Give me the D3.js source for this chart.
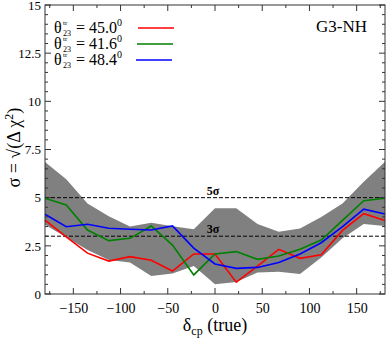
<!DOCTYPE html>
<html><head><meta charset="utf-8">
<script src="https://cdn.jsdelivr.net/npm/d3@7"></script>
<style>body{margin:0;background:#fff}svg{display:block}svg text{font-family:"Liberation Serif","DejaVu Serif",serif}</style>
</head><body><svg id="c" width="390" height="339"></svg>
<script>
const deltaCP = [-180,-157.5,-135,-112.5,-90,-67.5,-45,-22.5,0,22.5,45,67.5,90,112.5,135,157.5,180];
const red45   = [3.84,2.97,2.12,1.71,1.94,1.75,1.19,2.08,2.08,0.61,1.45,2.32,1.85,2.04,3.30,4.17,3.82];
const green41 = [4.97,4.62,3.32,2.77,2.89,3.53,2.54,0.99,2.08,2.20,1.80,1.97,2.32,2.80,3.82,4.84,4.97];
const blue48  = [4.14,3.49,3.62,3.41,3.36,3.32,3.53,2.38,1.56,1.33,1.38,1.63,2.08,2.66,3.50,4.40,4.15];
const bandUpper = [6.85,5.95,4.70,4.03,3.50,3.70,3.52,3.36,4.45,4.45,3.63,3.23,3.40,4.00,4.70,5.83,6.87];
const bandLower = [3.60,2.94,2.28,1.76,1.63,0.93,1.07,1.45,0.50,0.62,1.12,1.15,1.04,1.90,2.89,3.63,3.53];
const xTicks = [-150,-100,-50,0,50,100,150];
const yTicks = [0,2.5,5,7.5,10,12.5,15];
const yTickLabels = ["0","2.5","5","7.5","10","12.5","15"];
const sigmaLevels = [5,3];
const sigmaLabels = ["5σ","3σ"];
const seriesNames = ["45.0","41.6","48.4"];
const seriesColors = ["#ff0000","#008000","#0000ff"];

const svg = d3.select("#c");
const L=45, R=385, T=5, B=294;
const x = d3.scaleLinear().domain([-180,180]).range([L,R]);
const y = d3.scaleLinear().domain([0,15]).range([B,T]);
const serif = "Liberation Serif, DejaVu Serif, serif";

// band
const area = d3.area().x((d,i)=>x(deltaCP[i])).y0((d,i)=>y(bandLower[i])).y1(d=>y(d));
svg.append("path").datum(bandUpper).attr("d",area).attr("fill","#808080");

// sigma lines
sigmaLevels.forEach((s,i)=>{
  svg.append("line").attr("x1",L).attr("x2",R).attr("y1",y(s)).attr("y2",y(s))
    .attr("stroke","#000").attr("stroke-width",1).attr("stroke-dasharray","4,2");
  svg.append("text").attr("x",x(0)-2).attr("y",y(s)-3).attr("text-anchor","middle")
    .attr("font-family",serif).attr("font-size",12).attr("font-weight","bold").text(sigmaLabels[i]);
});

// series
const line = d3.line().x((d,i)=>x(deltaCP[i])).y(d=>y(d));
[red45,green41,blue48].forEach((s,i)=>{
  svg.append("path").datum(s).attr("d",line).attr("fill","none")
    .attr("stroke",seriesColors[i]).attr("stroke-width",1.6);
});

// frame
svg.append("rect").attr("x",L).attr("y",T).attr("width",R-L).attr("height",B-T)
  .attr("fill","none").attr("stroke","#333").attr("stroke-width",1);

// axes ticks
const xMinor = d3.range(-175,180,25);
const yMinor = d3.range(0,15.01,0.5);
const g = svg.append("g").attr("stroke","#333").attr("stroke-width",1);
xMinor.forEach(v=>{
  const major = v%50===0;
  const len = major?6:3;
  g.append("line").attr("x1",x(v)).attr("x2",x(v)).attr("y1",B).attr("y2",B-len);
  g.append("line").attr("x1",x(v)).attr("x2",x(v)).attr("y1",T).attr("y2",T+len);
});
yMinor.forEach(v=>{
  const major = Math.abs(v/2.5-Math.round(v/2.5))<1e-6;
  const len = major?6:3;
  g.append("line").attr("y1",y(v)).attr("y2",y(v)).attr("x1",L).attr("x2",L+len);
  g.append("line").attr("y1",y(v)).attr("y2",y(v)).attr("x1",R).attr("x2",R-len);
});

// tick labels
const xAxis = d3.axisBottom(x).tickValues(xTicks).tickSize(0).tickPadding(9).tickFormat(d=>d<0?"−"+Math.abs(d):d);
const xa = svg.append("g").attr("transform",`translate(0,${B})`).call(xAxis);
xa.select(".domain").remove();
xa.attr("font-family",serif);
xa.selectAll("text").attr("font-family",serif).attr("font-size",14).attr("fill","#000");
const yAxis = d3.axisLeft(y).tickValues(yTicks).tickSize(0).tickPadding(4).tickFormat((d,i)=>yTickLabels[i]);
const ya = svg.append("g").attr("transform",`translate(${L},0)`).call(yAxis);
ya.select(".domain").remove();
ya.attr("font-family",serif);
ya.selectAll("text").attr("font-family",serif).attr("font-size",13).attr("fill","#000");

// axis titles
const xt = svg.append("text").attr("x",x(0)).attr("y",331).attr("text-anchor","middle")
  .attr("font-family",serif).attr("font-size",18);
xt.append("tspan").text("δ");
xt.append("tspan").attr("font-size",12).attr("dy",4).text("cp");
xt.append("tspan").attr("dy",-4).text(" (true)");

const yt = svg.append("text").attr("transform",`translate(20,${y(7.6)}) rotate(-90)`).attr("text-anchor","middle")
  .attr("font-family",serif).attr("font-size",18);
yt.append("tspan").text("σ = √(Δ χ");
yt.append("tspan").attr("font-size",12).attr("dy",-7).text("2");
yt.append("tspan").attr("dy",7).text(")");

// legend
seriesNames.forEach((n,i)=>{
  const by = 33 + i*16;
  svg.append("text").attr("x",54).attr("y",by).attr("font-family",serif).attr("font-size",16).text("θ");
  svg.append("text").attr("x",63).attr("y",by-8).attr("font-family",serif).attr("font-size",7).text("tr");
  svg.append("text").attr("x",63).attr("y",by+3).attr("font-family",serif).attr("font-size",8).text("23");
  const t = svg.append("text").attr("x",76).attr("y",by).attr("font-family",serif).attr("font-size",16);
  t.append("tspan").text("= "+n);
  t.append("tspan").attr("font-size",10).attr("dy",-7).text("0");
  svg.append("line").attr("x1",138-i).attr("x2",174-i).attr("y1",by-5).attr("y2",by-5)
    .attr("stroke",seriesColors[i]).attr("stroke-width",1.6);
});

svg.append("text").attr("x",367).attr("y",32).attr("text-anchor","end")
  .attr("font-family",serif).attr("font-size",17).text("G3-NH");
</script></body></html>
